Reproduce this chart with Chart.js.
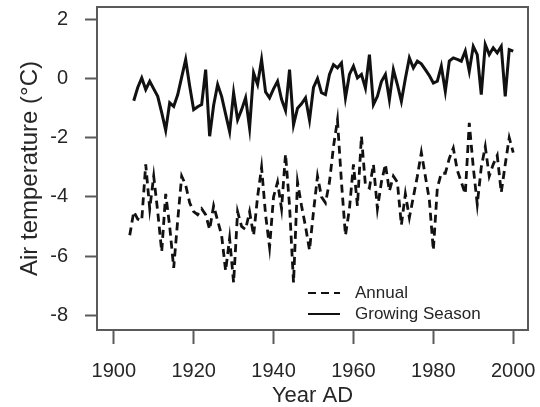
<!DOCTYPE html>
<html><head><meta charset="utf-8">
<script src="https://cdn.jsdelivr.net/npm/chart.js@4.4.0/dist/chart.umd.min.js"></script>
<style>html,body{margin:0;padding:0;background:#fff}#wrap{width:540px;height:407px}</style>
</head><body><div id="wrap"><canvas id="c" width="540" height="407"></canvas></div>
<script>
const years = [1904,1905,1906,1907,1908,1909,
 1910,1911,1912,1913,1914,1915,1916,1917,1918,1919,
 1920,1921,1922,1923,1924,1925,1926,1927,1928,1929,
 1930,1931,1932,1933,1934,1935,1936,1937,1938,1939,
 1940,1941,1942,1943,1944,1945,1946,1947,1948,1949,
 1950,1951,1952,1953,1954,1955,1956,1957,1958,1959,
 1960,1961,1962,1963,1964,1965,1966,1967,1968,1969,
 1970,1971,1972,1973,1974,1975,1976,1977,1978,1979,
 1980,1981,1982,1983,1984,1985,1986,1987,1988,1989,
 1990,1991,1992,1993,1994,1995,1996,1997,1998,1999,
 2000];
const annual = [-5.3,-4.5,-4.75,-4.8,-2.9,-4.4,
 -3.3,-4.5,-5.85,-3.9,-5.0,-6.4,-4.8,-3.3,-3.6,-4.2,
 -4.5,-4.6,-4.4,-4.6,-5.1,-4.3,-4.8,-5.3,-6.5,-5.4,
 -6.9,-4.5,-5.0,-5.1,-4.5,-5.3,-4.0,-3.0,-4.6,-5.7,
 -4.0,-3.5,-4.4,-2.55,-4.3,-6.9,-3.5,-4.3,-5.0,-5.8,
 -4.5,-3.3,-4.0,-4.2,-3.5,-2.3,-1.4,-3.5,-5.3,-4.4,
 -2.9,-4.3,-1.95,-3.6,-3.7,-2.9,-4.4,-3.5,-2.9,-3.8,
 -3.3,-3.5,-4.95,-3.9,-4.7,-4.0,-3.3,-2.5,-3.3,-4.1,
 -5.8,-3.7,-3.2,-3.2,-2.7,-2.35,-3.1,-3.5,-3.9,-1.5,
 -3.0,-4.25,-3.0,-2.3,-3.3,-2.9,-2.6,-3.85,-2.9,-2.0,
 -2.5];
const growingSeason = [null,-0.75,-0.3,0.02,-0.37,-0.09,
 -0.35,-0.6,-1.15,-1.75,-0.82,-0.94,-0.55,0.05,0.64,-0.25,
 -1.05,-0.95,-0.88,0.3,-1.95,-0.9,-0.2,-0.6,-1.2,-1.79,
 -0.48,-1.39,-1.05,-0.65,-1.67,0.19,-0.2,0.64,-0.45,-0.65,
 -0.35,-0.09,-0.7,-1.08,0.3,-1.56,-1.0,-0.85,-0.65,-1.4,
 -0.3,0.0,-0.48,-0.54,0.14,0.47,0.36,0.53,-0.65,0.14,
 0.42,0.02,0.14,-0.32,0.81,-0.88,-0.6,-0.1,0.14,-0.71,
 0.3,-0.2,-0.77,0.0,0.70,0.36,0.59,0.5,0.3,0.1,
 -0.15,-0.09,0.42,-0.43,0.59,0.70,0.65,0.59,0.93,0.25,
 1.09,0.81,-0.54,1.15,0.81,1.04,0.87,1.09,-0.6,0.98,
 0.93];
const xTicks = [1900,1920,1940,1960,1980,2000];
const yTicks = [-8,-6,-4,-2,0,2];
const seriesNames = ['Annual','Growing Season'];

const FONT = '"Liberation Sans", Arial, Helvetica, sans-serif';
const AXIS = '#5a5a5a';
const TEXT = '#262626';

const boxPlugin = {
  id: 'box',
  afterDatasetsDraw(chart) {
    const {ctx, chartArea: a} = chart;
    ctx.save();
    ctx.strokeStyle = AXIS; ctx.lineWidth = 2;
    ctx.strokeRect(a.left, a.top, a.right - a.left, a.bottom - a.top);
    ctx.restore();
  }
};
const legendPlugin = {
  id: 'lg',
  afterDraw(chart) {
    const ctx = chart.ctx;
    const rows = [293, 314];
    ctx.save();
    chart.data.datasets.forEach((ds, i) => {
      const y = rows[i];
      ctx.strokeStyle = ds.borderColor; ctx.lineWidth = 2;
      ctx.setLineDash(ds.borderDash || []);
      ctx.beginPath(); ctx.moveTo(308, y); ctx.lineTo(340, y); ctx.stroke();
      ctx.setLineDash([]);
      ctx.fillStyle = TEXT; ctx.font = '17px ' + FONT;
      ctx.textBaseline = 'middle'; ctx.textAlign = 'left';
      ctx.fillText(ds.label, 355, y);
    });
    ctx.restore();
  }
};

new Chart(document.getElementById('c'), {
  type: 'line',
  data: {
    datasets: [
      { label: seriesNames[0], data: years.map((x, i) => ({x, y: annual[i]})),
        borderColor: '#111', borderWidth: 2.8, borderDash: [8, 5], pointRadius: 0, tension: 0, fill: false },
      { label: seriesNames[1], data: years.map((x, i) => ({x, y: growingSeason[i]})),
        borderColor: '#111', borderWidth: 3, pointRadius: 0, tension: 0, fill: false }
    ]
  },
  options: {
    responsive: false, animation: false, devicePixelRatio: 1,
    layout: { padding: { left: 0, right: 12, top: 7, bottom: 0 } },
    plugins: { legend: { display: false }, tooltip: { enabled: false } },
    scales: {
      x: {
        type: 'linear', min: 1895.8, max: 2003.7,
        afterBuildTicks: s => { s.ticks = xTicks.map(v => ({value: v})); },
        afterFit: s => { s.height = 77; s.paddingLeft = 0; s.paddingRight = 0; },
        grid: { drawOnChartArea: false, drawTicks: true, tickLength: 14, tickColor: AXIS, tickWidth: 2 },
        border: { display: false },
        ticks: { color: TEXT, font: { size: 20, family: FONT }, padding: 15, maxRotation: 0, autoSkip: false,
                 callback: v => String(v) },
        title: { display: true, text: 'Year AD', color: TEXT, font: { size: 22, family: FONT, lineHeight: 1.0 }, padding: { top: 0, bottom: 0 } }
      },
      y: {
        min: -8.5, max: 2.42,
        afterBuildTicks: s => { s.ticks = yTicks.map(v => ({value: v})); },
        afterFit: s => { s.width = 97; s.paddingTop = 0; s.paddingBottom = 0; },
        grid: { drawOnChartArea: false, drawTicks: true, tickLength: 12, tickColor: AXIS, tickWidth: 2 },
        border: { display: false },
        ticks: { color: TEXT, font: { size: 20, family: FONT }, padding: 17, callback: v => String(v) },
        title: { display: true, text: 'Air temperature (°C)', color: TEXT, font: { size: 24, family: FONT }, padding: { top: 16, bottom: 0 } }
      }
    }
  },
  plugins: [boxPlugin, legendPlugin]
});
</script></body></html>
